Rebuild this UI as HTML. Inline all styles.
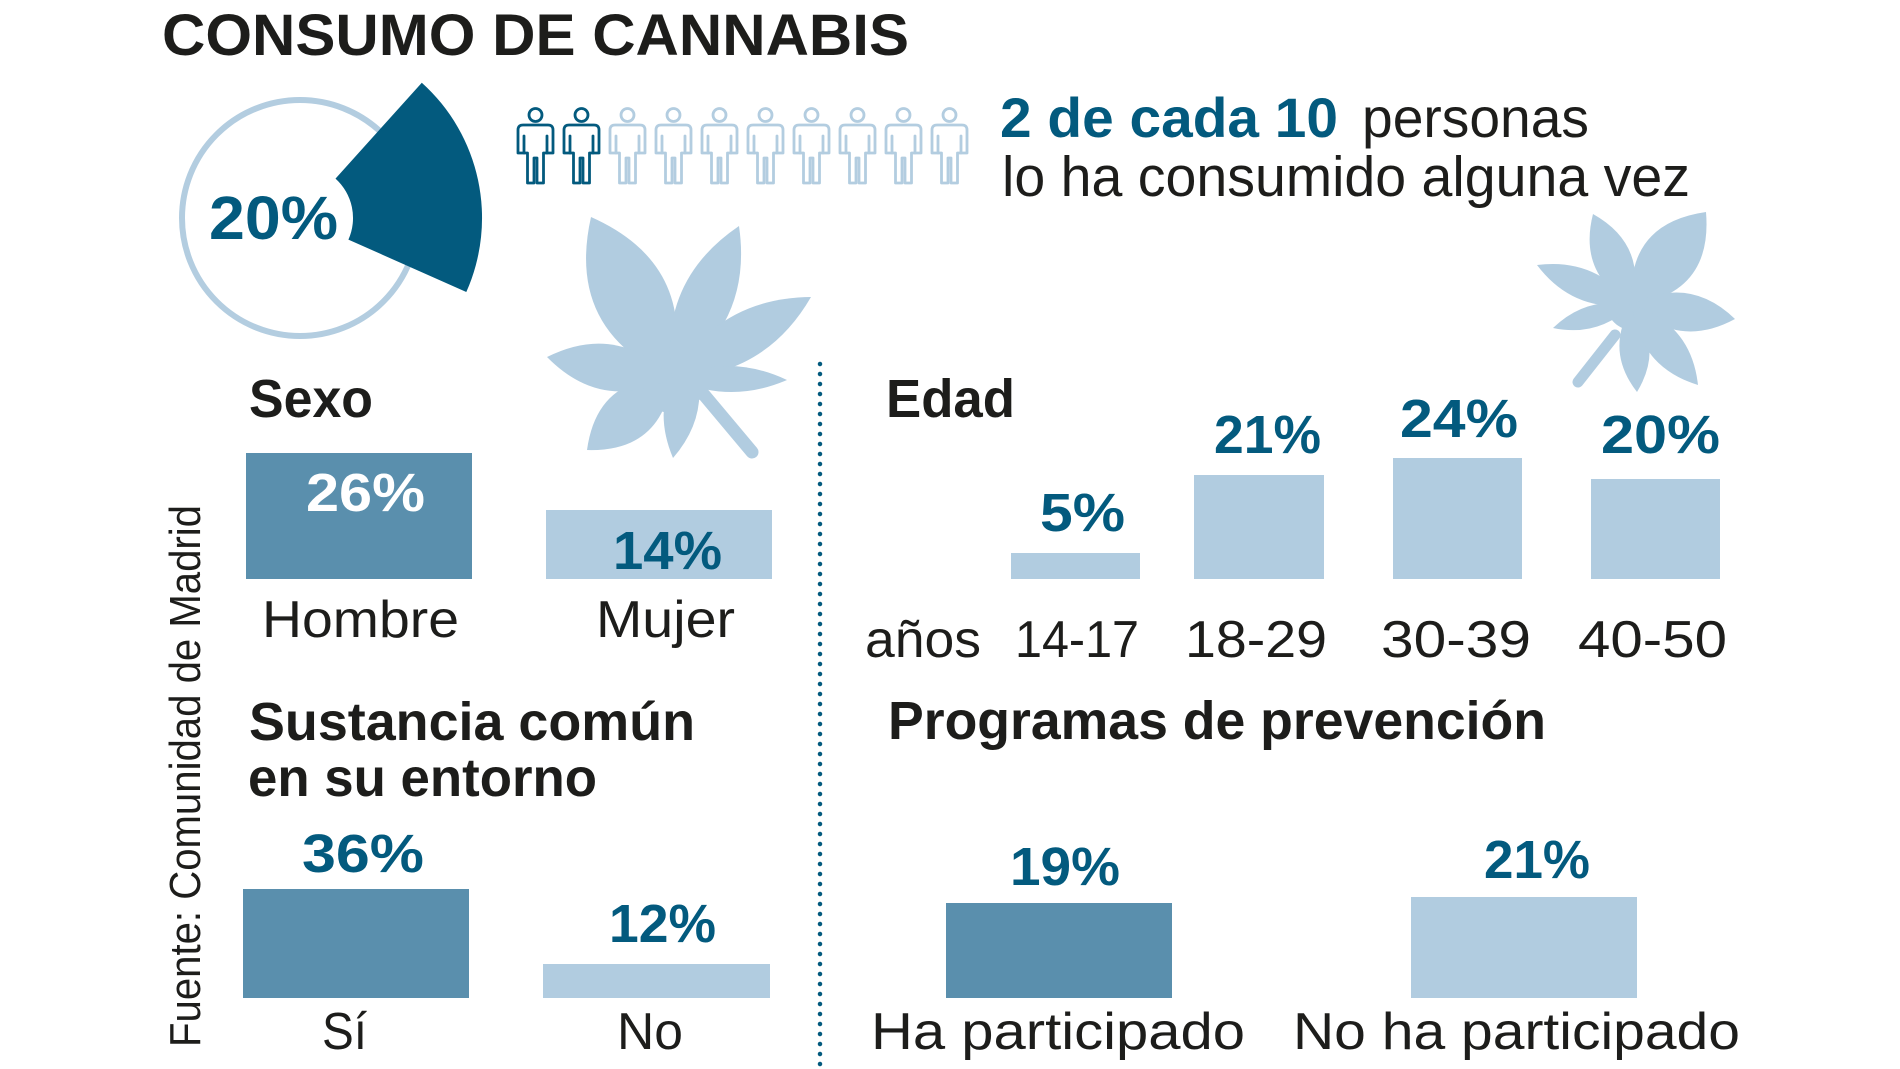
<!DOCTYPE html>
<html>
<head>
<meta charset="utf-8">
<style>
html,body{margin:0;padding:0;background:#fff;}
svg{display:block;}
text{font-family:"Liberation Sans", Arial, sans-serif;}
.b{font-weight:bold;}
.k{fill:#1d1d1b;}
.d{fill:#035a7e;}
</style>
</head>
<body>
<svg width="1900" height="1069" viewBox="0 0 1900 1069" xmlns="http://www.w3.org/2000/svg">
<rect width="1900" height="1069" fill="#fff"/>

<!-- Title -->
<text x="162" y="55" class="b k" font-size="58" textLength="747" lengthAdjust="spacingAndGlyphs">CONSUMO DE CANNABIS</text>

<!-- Circle + wedge -->
<circle cx="300" cy="218" r="118" fill="none" stroke="#b3cde0" stroke-width="6"/>
<path d="M421.8,82.7 A182,182 0 0 1 466.3,292 L348.4,239.6 A53,53 0 0 0 335.5,178.6 Z" fill="#035a7e"/>
<text x="209" y="239" class="b d" font-size="61" textLength="129" lengthAdjust="spacingAndGlyphs">20%</text>

<!-- People icons -->
<defs>
<g id="person" fill="none" stroke-width="2.8" stroke-linejoin="round" stroke-linecap="round">
<circle cx="0" cy="115" r="6.5"/>
<path d="M-11.5,136 V153 H-17.5 V130 Q-17.5,125 -12.5,125 H12.5 Q17.5,125 17.5,130 V153 H11.5 V136"/>
<path d="M-11.5,153 H-8 V183 H-1.5 V158 H1.5 V183 H8 V153 H11.5"/>
</g>
</defs>
<g stroke="#035a7e">
<use href="#person" x="535.5"/>
<use href="#person" x="581.5"/>
</g>
<g stroke="#b3cde0">
<use href="#person" x="627.5"/>
<use href="#person" x="673.5"/>
<use href="#person" x="719.5"/>
<use href="#person" x="765.5"/>
<use href="#person" x="811.5"/>
<use href="#person" x="857.5"/>
<use href="#person" x="903.5"/>
<use href="#person" x="949.5"/>
</g>

<!-- Headline text -->
<text x="1000" y="137" class="b d" font-size="56" textLength="338" lengthAdjust="spacingAndGlyphs">2 de cada 10</text>
<text x="1362" y="137" class="k" font-size="56" textLength="227" lengthAdjust="spacingAndGlyphs">personas</text>
<text x="1002" y="196" class="k" font-size="57" textLength="688" lengthAdjust="spacingAndGlyphs">lo ha consumido alguna vez</text>

<!-- Leaf 1 -->
<g fill="#b1cce0">
<circle cx="672" cy="378" r="35"/>
<path d="M672,378 Q697.6,264.3 591,217 Q565.4,330.7 672,378 Z"/>
<path d="M672,378 Q753.1,323 739,226 Q657.9,281 672,378 Z"/>
<path d="M672,378 Q764.6,377.2 811,297 Q718.4,297.8 672,378 Z"/>
<path d="M672,378 Q729.1,405 787,380 Q729.9,353 672,378 Z"/>
<path d="M690,350 Q647.9,398.7 673,458 Q715.1,409.3 690,350 Z"/>
<path d="M672,378 Q597.2,375.8 587,450 Q661.8,452.2 672,378 Z"/>
<path d="M672,378 Q617.1,322.1 547,357 Q601.9,412.9 672,378 Z"/>
<line x1="700" y1="390" x2="752" y2="452" stroke="#b1cce0" stroke-width="13" stroke-linecap="round"/>
</g>

<!-- Leaf 2 -->
<g fill="#b1cce0">
<circle cx="1632" cy="305" r="25"/>
<path d="M1632,305 Q1647.4,244.5 1593,214 Q1577.6,274.5 1632,305 Z"/>
<path d="M1632,305 Q1712.8,293.4 1706,212 Q1625.2,223.6 1632,305 Z"/>
<path d="M1632,305 Q1596.1,257.4 1537,265 Q1572.9,312.6 1632,305 Z"/>
<path d="M1632,305 Q1678.4,349.6 1735,319 Q1688.6,274.4 1632,305 Z"/>
<path d="M1632,305 Q1586.4,295.4 1553,328 Q1598.6,337.6 1632,305 Z"/>
<path d="M1632,305 Q1604.5,350.2 1637,392 Q1664.5,346.8 1632,305 Z"/>
<path d="M1632,305 Q1638.8,366.6 1698,385 Q1691.2,323.4 1632,305 Z"/>
<line x1="1615" y1="335" x2="1578" y2="382" stroke="#b1cce0" stroke-width="11" stroke-linecap="round"/>
</g>

<!-- Dotted divider -->
<line x1="820" y1="364" x2="820" y2="1069" stroke="#035a7e" stroke-width="4.5" stroke-linecap="round" stroke-dasharray="0 10"/>

<!-- Source -->
<text transform="translate(200,1047) rotate(-90)" class="k" font-size="44" textLength="542" lengthAdjust="spacingAndGlyphs">Fuente: Comunidad de Madrid</text>

<!-- Sexo -->
<text x="249" y="417" class="b k" font-size="54" textLength="124" lengthAdjust="spacingAndGlyphs">Sexo</text>
<rect x="246" y="453" width="226" height="126" fill="#5a8fad"/>
<rect x="546" y="510" width="226" height="69" fill="#b1cce0"/>
<text x="306" y="511" class="b" fill="#fff" font-size="54" textLength="119" lengthAdjust="spacingAndGlyphs">26%</text>
<text x="613" y="569" class="b d" font-size="54" textLength="109" lengthAdjust="spacingAndGlyphs">14%</text>
<text x="262" y="637" class="k" font-size="52" textLength="197" lengthAdjust="spacingAndGlyphs">Hombre</text>
<text x="596" y="637" class="k" font-size="52" textLength="139" lengthAdjust="spacingAndGlyphs">Mujer</text>

<!-- Edad -->
<text x="886" y="417" class="b k" font-size="54" textLength="129" lengthAdjust="spacingAndGlyphs">Edad</text>
<rect x="1011" y="553" width="129" height="26" fill="#b1cce0"/>
<rect x="1194" y="475" width="130" height="104" fill="#b1cce0"/>
<rect x="1393" y="458" width="129" height="121" fill="#b1cce0"/>
<rect x="1591" y="479" width="129" height="100" fill="#b1cce0"/>
<text x="1040" y="531" class="b d" font-size="54" textLength="85" lengthAdjust="spacingAndGlyphs">5%</text>
<text x="1214" y="453" class="b d" font-size="54" textLength="107" lengthAdjust="spacingAndGlyphs">21%</text>
<text x="1400" y="437" class="b d" font-size="54" textLength="118" lengthAdjust="spacingAndGlyphs">24%</text>
<text x="1601" y="453" class="b d" font-size="54" textLength="119" lengthAdjust="spacingAndGlyphs">20%</text>
<text x="865" y="657" class="k" font-size="52" textLength="116" lengthAdjust="spacingAndGlyphs">años</text>
<text x="1015" y="657" class="k" font-size="52" textLength="124" lengthAdjust="spacingAndGlyphs">14-17</text>
<text x="1185" y="657" class="k" font-size="52" textLength="142" lengthAdjust="spacingAndGlyphs">18-29</text>
<text x="1381" y="657" class="k" font-size="52" textLength="150" lengthAdjust="spacingAndGlyphs">30-39</text>
<text x="1578" y="657" class="k" font-size="52" textLength="149" lengthAdjust="spacingAndGlyphs">40-50</text>

<!-- Sustancia -->
<text x="249" y="740" class="b k" font-size="54" textLength="446" lengthAdjust="spacingAndGlyphs">Sustancia común</text>
<text x="248" y="796" class="b k" font-size="54" textLength="349" lengthAdjust="spacingAndGlyphs">en su entorno</text>
<rect x="243" y="889" width="226" height="109" fill="#5a8fad"/>
<rect x="543" y="964" width="227" height="34" fill="#b1cce0"/>
<text x="302" y="872" class="b d" font-size="54" textLength="122" lengthAdjust="spacingAndGlyphs">36%</text>
<text x="609" y="942" class="b d" font-size="54" textLength="107" lengthAdjust="spacingAndGlyphs">12%</text>
<text x="322" y="1049" class="k" font-size="52" textLength="45" lengthAdjust="spacingAndGlyphs">Sí</text>
<text x="617" y="1049" class="k" font-size="52" textLength="66" lengthAdjust="spacingAndGlyphs">No</text>

<!-- Programas -->
<text x="888" y="739" class="b k" font-size="54" textLength="658" lengthAdjust="spacingAndGlyphs">Programas de prevención</text>
<rect x="946" y="903" width="226" height="95" fill="#5a8fad"/>
<rect x="1411" y="897" width="226" height="101" fill="#b1cce0"/>
<text x="1010" y="885" class="b d" font-size="54" textLength="110" lengthAdjust="spacingAndGlyphs">19%</text>
<text x="1484" y="878" class="b d" font-size="54" textLength="106" lengthAdjust="spacingAndGlyphs">21%</text>
<text x="871" y="1049" class="k" font-size="52" textLength="374" lengthAdjust="spacingAndGlyphs">Ha participado</text>
<text x="1293" y="1049" class="k" font-size="52" textLength="447" lengthAdjust="spacingAndGlyphs">No ha participado</text>
</svg>
</body>
</html>
